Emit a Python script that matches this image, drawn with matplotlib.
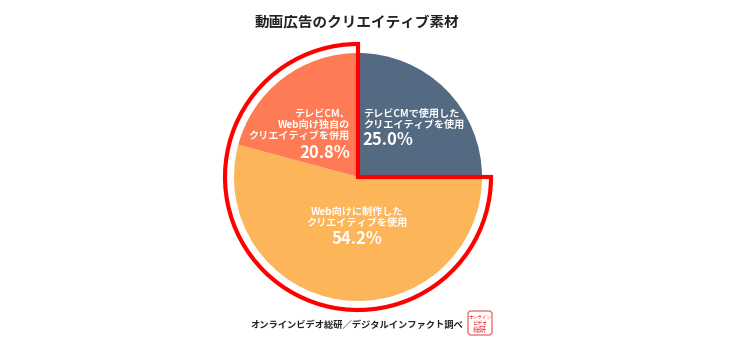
import matplotlib
matplotlib.use("Agg")
import matplotlib.pyplot as plt
from matplotlib.patches import Wedge, FancyBboxPatch

plt.rcParams['font.family'] = ['Noto Sans CJK JP', 'DejaVu Sans']

# creative type shares (%), clockwise from 12 o'clock
labels = ["テレビCMで使用した\nクリエイティブを使用",
          "Web向けに制作した\nクリエイティブを使用",
          "テレビCM、\nWeb向け独自の\nクリエイティブを併用"]
shares = [25.0, 54.2, 20.8]
colors = ["#536a82", "#fdb55a", "#fe7b55"]

title = "動画広告のクリエイティブ素材"
source = "オンラインビデオ総研／デジタルインファクト調べ"

W, H = 740, 347
fig = plt.figure(figsize=(W / 100, H / 100), dpi=100)
ax = fig.add_axes([0, 0, 1, 1])

cx, cy, r = 358, 170, 124
ax.pie(shares, colors=colors, startangle=90, counterclock=False,
       center=(cx, cy), radius=r, frame=True,
       wedgeprops=dict(linewidth=0))
ax.set_xlim(0, W)
ax.set_ylim(0, H)
ax.set_aspect("equal")
ax.axis("off")

# highlight the web-oriented share (orange + salmon)
ax.add_patch(Wedge((cx, cy), 133, 90, 360, fill=False,
                   edgecolor="#ff0000", linewidth=3, joinstyle="miter"))

ax.text(357, 325, title, ha="center", va="center", fontsize=10.5,
        fontweight="bold", color="#222222")

small = 7.3
big = 12
# blue slice
ax.text(363, 228, labels[0], ha="left", va="center", fontsize=small,
        fontweight="bold", color="white", linespacing=1.1)
ax.text(362, 207, f"{shares[0]:.1f}%", ha="left", va="center", fontsize=big,
        fontweight="bold", color="white")
# salmon slice
ax.text(350, 222, labels[2], ha="right", va="center", fontsize=small,
        fontweight="bold", color="white", linespacing=1.1)
ax.text(350, 194, f"{shares[2]:.1f}%", ha="right", va="center", fontsize=big,
        fontweight="bold", color="white")
# orange slice
ax.text(357, 129.5, labels[1], ha="center", va="center", fontsize=small,
        fontweight="bold", color="white", linespacing=1.1)
ax.text(357, 108, f"{shares[1]:.1f}%", ha="center", va="center", fontsize=big,
        fontweight="bold", color="white")

ax.text(250, 22, source, ha="left", va="center", fontsize=6.7,
        fontweight="bold", color="#222222")

# small stamp logo
ax.add_patch(FancyBboxPatch((468, 12), 24, 24,
                            boxstyle="round,pad=0,rounding_size=3",
                            facecolor="white", edgecolor="#e05050", linewidth=0.8))
ax.text(480, 30, "オンライン", ha="center", va="center",
        fontsize=3.3, color="#e03030")
ax.text(480, 24, "ビデオ", ha="center", va="center",
        fontsize=3.6, color="#e03030")
ax.text(480, 17, "総研", ha="center", va="center",
        fontsize=5, color="#e03030")

fig.savefig("out.png", dpi=100)
